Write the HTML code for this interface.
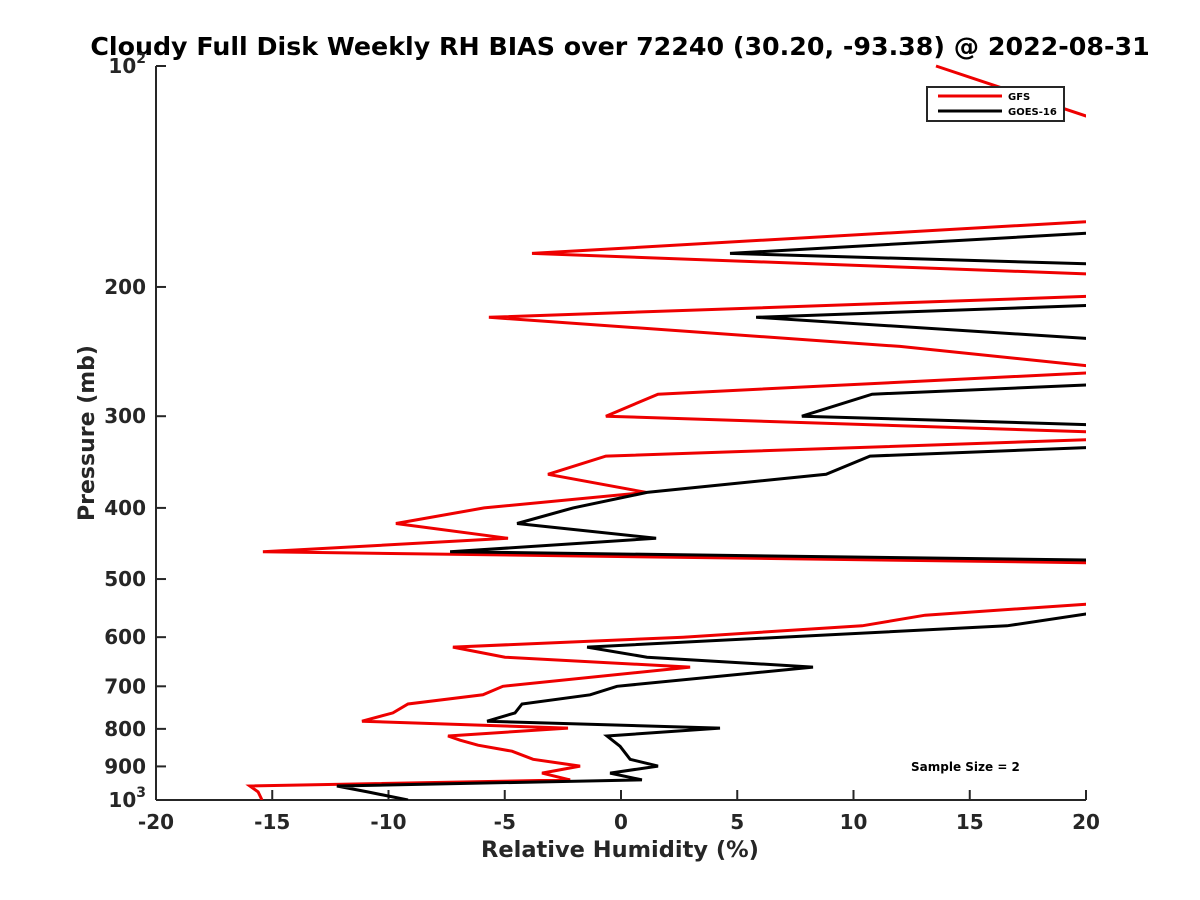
<!DOCTYPE html>
<html><head><meta charset="utf-8"><style>
html,body{margin:0;padding:0;background:#fff;}
svg{display:block;font-family:"DejaVu Sans","Liberation Sans",sans-serif;font-weight:bold;}
</style></head><body>
<svg id="chart" width="1200" height="900" viewBox="0 0 1200 900">
<defs><clipPath id="plotclip"><rect x="156" y="0" width="930" height="800"/></clipPath></defs>
<text x="620" y="55" text-anchor="middle" font-size="25.3" fill="#000">Cloudy Full Disk Weekly RH BIAS over 72240 (30.20, -93.38) @ 2022-08-31</text>
<g id="axes"></g>
<g id="series" clip-path="url(#plotclip)"></g>
<text x="620" y="857" text-anchor="middle" font-size="22.5" fill="#262626">Relative Humidity (%)</text>
<text transform="translate(94,433) rotate(-90)" text-anchor="middle" font-size="22" fill="#262626">Pressure (mb)</text>
<g>
<rect x="927" y="87" width="137" height="34" fill="#fff" stroke="#262626" stroke-width="2"/>
<line x1="938" y1="96" x2="1002" y2="96" stroke="#e00" stroke-width="3"/>
<text x="1008" y="100" font-size="10" fill="#000">GFS</text>
<line x1="938" y1="111" x2="1002" y2="111" stroke="#000" stroke-width="3"/>
<text x="1008" y="115" font-size="10" fill="#000">GOES-16</text>
</g>
<text x="911" y="771" font-size="12" fill="#000">Sample Size = 2</text>
</svg>
<script>
const xTicks = [-20,-15,-10,-5,0,5,10,15,20];
const yTicks = [100,200,300,400,500,600,700,800,900,1000];
const yTickLabels = ["10^2","200","300","400","500","600","700","800","900","10^3"];
const gfsP = [100,117,140,163,180,192,199,206,220,241,256,259,262,280,300,315,319,323,340,360,381,400,420,440,459,475,510,541,560,579,600,619,639,659,700,719,740,761,781,798,818,829,842,858,880,899,919,939,957,975,1000];
const gfsV = [13.55,20,35,20,-3.83,20,35,20,-5.68,12.0,20,35,20,1.59,-0.65,20,35,20,-0.65,-3.14,1.08,-5.89,-9.68,-4.86,-15.4,20,35,20,13.08,10.37,2.67,-7.23,-4.99,2.97,-5.08,-5.94,-9.16,-9.81,-11.14,-2.28,-7.44,-6.92,-6.15,-4.69,-3.78,-1.76,-3.4,-2.19,-15.96,-15.61,-15.44];
const goesP = [169,180,186,199,212,220,235,255,272,280,300,308,320,331,340,360,381,400,420,440,459,471,510,558,579,619,639,659,700,719,740,761,781,798,818,845,880,899,919,939,957,975,1000];
const goesV = [20,4.69,20,35,20,5.81,20,35,20,10.8,7.78,20,35,20,10.71,8.82,1.12,-2.06,-4.47,1.51,-7.35,20,35,20,16.6,-1.46,1.12,8.26,-0.17,-1.33,-4.26,-4.56,-5.76,4.26,-0.6,-0.04,0.39,1.59,-0.47,0.9,-12.22,-10.9,-9.16];

const X0=156, X1=1086, Y0=66, Y1=800;
function xs(v){return X0+(v+20)/40*(X1-X0);}
function ys(p){return Y0+Math.log10(p/100)*(Y1-Y0);}
const NS="http://www.w3.org/2000/svg";
const axes=document.getElementById('axes');
const series=document.getElementById('series');
function mk(tag,attrs,parent){const e=document.createElementNS(NS,tag);for(const k in attrs)e.setAttribute(k,attrs[k]);parent.appendChild(e);return e;}

const xAxis=mk('line',{x1:X0,y1:Y1,x2:X1,y2:Y1,stroke:'#262626','stroke-width':2},axes);


const yAxis=mk('line',{x1:X0,y1:Y0,x2:X0,y2:Y1,stroke:'#262626','stroke-width':2},axes);



xTicks.forEach(v=>{
  const x=xs(v);
  const t=mk('line',{x1:x,y1:Y1,x2:x,y2:Y1-10,stroke:'#262626','stroke-width':2},axes);
  
  
  const l=mk('text',{x:x,y:Y1+29,'text-anchor':'middle','font-size':20,fill:'#262626'},axes);
  l.textContent=String(v);
  
  
});
yTicks.forEach((p,i)=>{
  const y=ys(p);
  const t=mk('line',{x1:X0,y1:y,x2:X0+10,y2:y,stroke:'#262626','stroke-width':2},axes);
  
  
  const lab=yTickLabels[i];
  const l=mk('text',{x:146,y:y+7,'text-anchor':'end','font-size':20,fill:'#262626'},axes);
  if(lab.indexOf('^')>=0){
    const parts=lab.split('^');
    const a=document.createElementNS(NS,'tspan');a.textContent=parts[0];l.appendChild(a);
    const b=document.createElementNS(NS,'tspan');b.textContent=parts[1];b.setAttribute('dy','-10');b.setAttribute('font-size','14');l.appendChild(b);
  } else l.textContent=lab;
  
  
});

function drawLine(P,V,color,name){
  const d=P.map((p,i)=>(i?'L':'M')+xs(V[i]).toFixed(1)+','+ys(p).toFixed(1)).join(' ');
  const path=mk('path',{d:d,fill:'none',stroke:color,'stroke-width':3,'stroke-linejoin':'miter'},series);
  
  
}
drawLine(gfsP,gfsV,'#e00','gfs-line');
drawLine(goesP,goesV,'#000','goes16-line');
</script>
</body></html>
